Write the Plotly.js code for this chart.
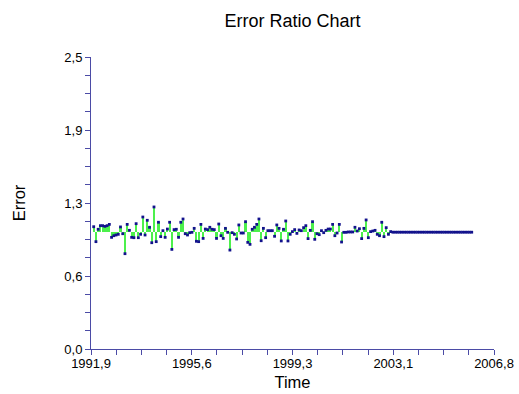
<!DOCTYPE html>
<html><head><meta charset="utf-8">
<script src="https://cdn.plot.ly/plotly-3.0.1.min.js"></script>
<style>html,body{margin:0;padding:0;background:#fff}#chart{width:519px;height:394px}</style>
</head><body><div id="chart"></div>
<script>
// Observed error ratios (monthly, 1992 .. end of 2002)
const actualValues = [
  1.047,0.919,1.025,1.056,1.056,1.050,1.056,1.067,0.956,0.970,0.976,0.982,1.045,0.987,0.816,1.067,1.016,0.956,0.953,1.073,0.953,0.982,1.130,0.976,1.102,1.042,
  0.910,1.216,0.919,1.085,0.962,1.013,0.956,1.027,1.085,0.853,1.022,1.025,0.956,1.085,1.113,0.987,0.976,0.996,0.999,1.033,0.922,0.919,1.067,0.947,1.027,
  1.022,1.042,1.025,1.022,0.947,1.070,0.970,0.947,1.033,0.999,0.847,0.996,0.982,0.942,1.062,0.993,0.993,1.090,0.913,0.896,1.025,1.042,1.067,1.113,
  0.927,1.033,0.953,1.013,1.013,1.013,0.965,1.062,1.033,0.925,1.025,1.096,0.925,0.982,1.005,1.022,0.990,1.019,1.013,1.039,1.056,0.945,1.016,1.090,0.939,
  0.987,0.979,1.013,0.996,1.016,1.027,1.027,1.067,0.970,0.993,1.067,0.916,0.999,0.999,1.002,1.002,1.002,1.042,1.010,1.030,0.945,1.033,1.105,0.953,
  1.005,1.010,1.016,0.982,0.970,1.085,0.962,1.039,0.982,1.005
];
const actualStart = 1992.0;
const actualEnd = 2002.98;

// Forecast period ratios (flat)
const forecastValues = [
  1.0,1.0,1.0,1.0,1.0,1.0,1.0,1.0,1.0,1.0,1.0,1.0,
  1.0,1.0,1.0,1.0,1.0,1.0,1.0,1.0,1.0,1.0,1.0,1.0,
  1.0,1.0,1.0,1.0,1.0,1.0,1.0,1.0,1.0,1.0,1.0,1.0
];
const forecastStart = 2003.06;
const forecastStep = 1/12;

const baseline = 1.0;
const xTickVals = [1991.9, 1995.625, 1999.35, 2003.075, 2006.8];
const xTickText = ['1991,9','1995,6','1999,3','2003,1','2006,8'];
const yTickVals = [0, 0.625, 1.25, 1.875, 2.5];
const yTickText = ['0,0','0,6','1,3','1,9','2,5'];

const actualStep = (actualEnd - actualStart) / (actualValues.length - 1);
const actualX = actualValues.map((_, i) => actualStart + i * actualStep);
const forecastX = forecastValues.map((_, i) => forecastStart + i * forecastStep);

const axisColor = '#4b4ba6';

const traces = [
  {
    type: 'bar', x: actualX, y: actualValues.map(v => v - baseline), base: baseline,
    width: actualStep * 0.95,
    marker: {color: '#4cf04c', line: {width: 0}},
    hoverinfo: 'skip'
  },
  {
    type: 'scatter', mode: 'markers', x: actualX, y: actualValues,
    marker: {color: '#12128c', size: 2.8, symbol: 'square'}
  },
  {
    type: 'scatter', mode: 'markers', x: forecastX, y: forecastValues,
    marker: {color: '#12128c', size: 2.8, symbol: 'square'}
  }
];

const layout = {
  width: 519, height: 394,
  margin: {l: 91, r: 25, t: 57, b: 45},
  showlegend: false,
  paper_bgcolor: '#fff', plot_bgcolor: '#fff',
  font: {family: 'Liberation Sans, Arial, sans-serif', color: '#000'},
  bargap: 0,
  title: {text: 'Error Ratio Chart', font: {size: 18, color: '#000'},
          x: 0.5635, xref: 'container', y: 1 - 21/394, yref: 'container', yanchor: 'middle', xanchor: 'center'},
  xaxis: {
    range: [1991.9, 2006.8], tickmode: 'array', tickvals: xTickVals, ticktext: xTickText,
    ticks: 'outside', ticklen: 5, tickcolor: axisColor, tickwidth: 1,
    showline: true, linecolor: axisColor, linewidth: 1,
    showgrid: false, zeroline: false,
    tickfont: {size: 13, color: '#000'},
    ticklabelstandoff: -3,
    minor: {tickmode: 'linear', tick0: 1991.9, dtick: 0.93125, ticks: 'outside', ticklen: 5, tickcolor: axisColor, showgrid: false},
    title: {text: 'Time', font: {size: 16.5, color: '#000'}, standoff: 6}
  },
  yaxis: {
    range: [0, 2.5], tickmode: 'array', tickvals: yTickVals, ticktext: yTickText,
    ticks: 'outside', ticklen: 5, tickcolor: axisColor, tickwidth: 1,
    showline: true, linecolor: axisColor, linewidth: 1,
    showgrid: false, zeroline: false,
    tickfont: {size: 13, color: '#000'},
    minor: {tickmode: 'linear', tick0: 0, dtick: 0.15625, ticks: 'outside', ticklen: 5, tickcolor: axisColor, showgrid: false},
    title: {text: 'Error', font: {size: 16.5, color: '#000'}, standoff: 34}
  }
};

Plotly.newPlot('chart', traces, layout, {displayModeBar: false, staticPlot: true});
</script>
</body></html>
